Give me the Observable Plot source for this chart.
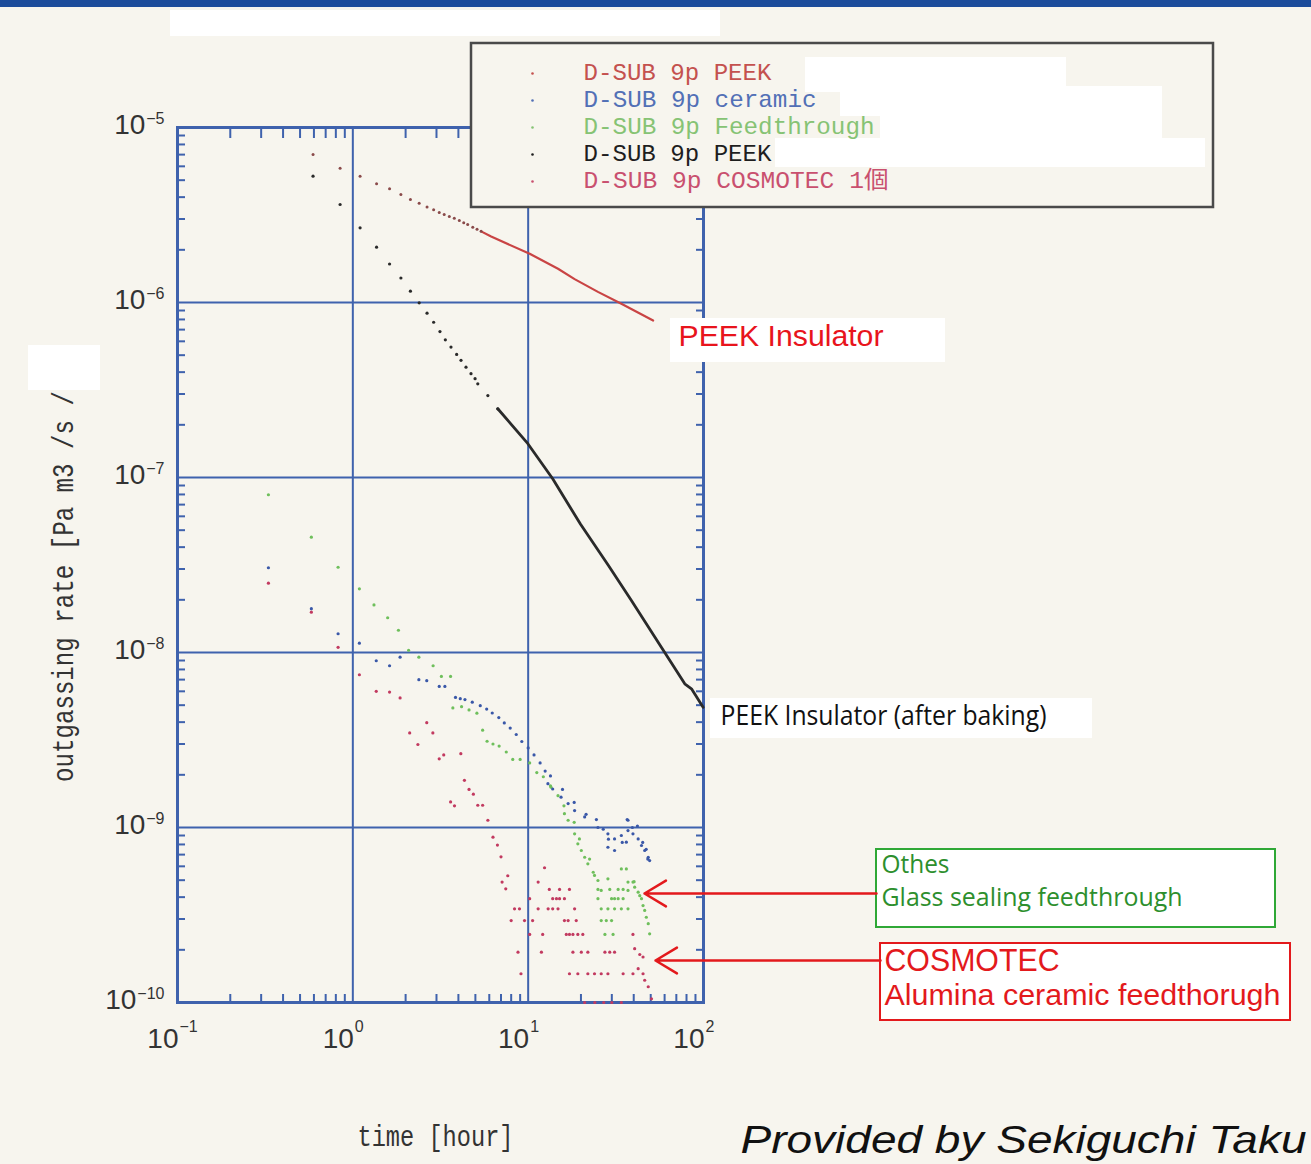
<!DOCTYPE html>
<html><head><meta charset="utf-8">
<script src="https://cdn.jsdelivr.net/npm/d3@7"></script>
<script src="https://cdn.jsdelivr.net/npm/@observablehq/plot@0.6"></script>
<style>
html,body{margin:0;padding:0;background:#f7f5ee;overflow:hidden;}
#wrap{position:relative;width:1311px;height:1164px;overflow:hidden;}
#bar{position:absolute;left:0;top:0;width:1311px;height:7px;background:#1c4c9b;}
</style></head><body><div id="wrap"><div id="chart"></div><div id="bar"></div></div>
<script>
// ---------------- data ----------------
const xMajor = [0.1, 1, 10, 100];
const xExp = ["\u22121", "0", "1", "2"];
const yMajor = [1e-10, 1e-9, 1e-8, 1e-7, 1e-6, 1e-5];
const yExp = ["\u221210", "\u22129", "\u22128", "\u22127", "\u22126", "\u22125"];
const minorMult = [2, 3, 4, 5, 6, 7, 8, 9];

const seriesNames = ["D-SUB 9p PEEK", "D-SUB 9p ceramic", "D-SUB 9p Feedthrough", "D-SUB 9p PEEK", "D-SUB 9p COSMOTEC 1個"];

// D-SUB 9p PEEK (red): sparse early dots, then dense trace
const peekDots = [[0.593,7.01e-6],[0.846,5.85e-6],[1.10,5.27e-6],[1.366,4.77e-6],[1.62,4.47e-6],[1.88,4.14e-6],[2.13,3.88e-6],[2.39,3.69e-6],[2.65,3.51e-6],[2.89,3.39e-6],[3.11,3.27e-6],[3.32,3.18e-6],[3.55,3.10e-6],[3.79,3.03e-6],[4.05,2.94e-6],[4.29,2.86e-6],[4.52,2.79e-6],[4.83,2.69e-6],[5.11,2.62e-6],[5.39,2.55e-6]];
const peekTrace = [[5.39,2.55e-6],[6.15,2.38e-6],[10.2,1.90e-6],[14.8,1.56e-6],[18.4,1.36e-6],[25.0,1.15e-6],[34.0,9.84e-7],[51.6,7.89e-7]];

// D-SUB 9p PEEK after baking (black)
const bakedDots = [[0.593,5.27e-6],[0.846,3.63e-6],[1.10,2.67e-6],[1.366,2.07e-6],[1.62,1.66e-6],[1.88,1.38e-6],[2.13,1.16e-6],[2.39,9.96e-7],[2.65,8.69e-7],[2.89,7.71e-7],[3.14,6.82e-7],[3.37,6.12e-7],[3.63,5.56e-7],[3.91,5.05e-7],[4.14,4.67e-7],[4.42,4.27e-7],[4.72,3.92e-7],[4.98,3.67e-7],[5.16,3.43e-7],[5.89,2.94e-7],[6.71,2.47e-7]];
const bakedTrace = [[6.71,2.47e-7],[9.96,1.56e-7],[13.8,9.84e-8],[19.9,5.4e-8],[28.7,3.14e-8],[38.8,1.98e-8],[57.5,1.07e-8],[78.2,6.62e-9],[85.4,6.2e-9],[99.5,4.86e-9]];

// D-SUB 9p ceramic (blue)
const ceramic = [[0.33,3.05e-8],[0.58,1.78e-8],[0.824,1.28e-8],[1.09,1.13e-8],[1.36,8.97e-9],[1.62,8.4e-9],[1.86,9.4e-9],[2.38,6.99e-9],[2.64,6.9e-9],[3.11,6.4e-9],[3.35,6.4e-9],[3.85,5.54e-9],[4.1,5.45e-9],[4.36,5.38e-9],[4.8,5.2e-9],[5.33,4.97e-9],[5.8,4.75e-9],[6.24,4.51e-9],[6.8,4.25e-9],[7.31,3.96e-9],[7.9,3.7e-9],[8.55,3.40e-9],[9.2,3.1e-9],[10.0,2.85e-9],[10.8,2.6e-9],[11.7,2.34e-9],[12.5,2.1e-9],[13.4,1.97e-9],[12.96,1.78e-9],[13.8,1.66e-9],[15.4,1.49e-9],[15.7,1.65e-9],[16.9,1.37e-9],[18.3,1.39e-9],[18.4,1.25e-9],[21.0,1.15e-9],[21.4,1.19e-9],[24.5,1.11e-9],[25.0,1.0e-9],[26.8,9.77e-10],[28.5,9.2e-10],[28.5,7.71e-10],[28.7,8.58e-10],[31.1,8.6e-10],[31.1,7.39e-10],[34.0,9.0e-10],[34.4,8.22e-10],[36.3,8.24e-10],[36.7,1.11e-9],[37.1,9.6e-10],[37.1,1.10e-9],[39.3,1.0e-9],[39.6,9.2e-10],[42.0,1.02e-9],[42.4,8.6e-10],[44.3,7.89e-10],[45.0,8.22e-10],[46.2,7.39e-10],[47.1,7.5e-10],[48.1,6.6e-10],[48.4,6.76e-10],[49.3,6.47e-10]];

// D-SUB 9p Feedthrough (green)
const feedthrough = [[0.33,7.97e-8],[0.58,4.56e-8],[0.824,3.07e-8],[1.09,2.31e-8],[1.32,1.87e-8],[1.58,1.58e-8],[1.82,1.34e-8],[2.08,1.03e-8],[2.38,9.4e-9],[2.87,8.4e-9],[3.20,7.3e-9],[3.61,7.3e-9],[3.72,4.82e-9],[4.17,4.9e-9],[4.6,4.7e-9],[5.1,4.5e-9],[5.5,3.6e-9],[5.83,3.11e-9],[6.3,3.0e-9],[6.83,2.92e-9],[7.5,2.7e-9],[8.17,2.45e-9],[9.0,2.45e-9],[10.2,2.34e-9],[11.2,2.06e-9],[12.2,1.95e-9],[13.4,1.73e-9],[13.5,1.70e-9],[14.8,1.52e-9],[16.0,1.33e-9],[16.1,1.20e-9],[16.9,1.10e-9],[18.3,1.07e-9],[18.4,9.2e-10],[19.2,8.07e-10],[19.6,8.6e-10],[20.1,7.39e-10],[21.0,6.76e-10],[21.9,6.2e-10],[22.4,6.6e-10],[23.5,5.55e-10],[23.9,5.32e-10],[25.0,4.98e-10],[26.1,4.37e-10],[28.5,5.09e-10],[25.0,4.43e-10],[29.2,4.43e-10],[32.6,4.43e-10],[34.8,4.43e-10],[25.0,3.92e-10],[29.9,3.92e-10],[31.1,3.92e-10],[32.6,3.92e-10],[34.8,3.92e-10],[26.1,3.43e-10],[28.5,3.43e-10],[31.1,3.43e-10],[34.0,3.43e-10],[37.1,3.43e-10],[26.1,2.94e-10],[27.9,2.94e-10],[29.9,2.94e-10],[27.4,2.45e-10],[30.5,2.45e-10],[34.0,5.8e-10],[36.3,5.8e-10],[37.1,4.88e-10],[39.6,4.88e-10],[37.1,4.37e-10],[40.2,4.9e-10],[40.5,4.56e-10],[42.4,4.27e-10],[43.3,4.08e-10],[44.3,3.92e-10],[45.2,3.58e-10],[46.2,3.36e-10],[47.2,3.07e-10],[48.4,2.82e-10],[49.3,2.47e-10]];

// D-SUB 9p COSMOTEC (crimson)
const cosmotec = [[0.33,2.49e-8],[0.58,1.70e-8],[0.824,1.07e-8],[1.09,7.46e-9],[1.36,6.0e-9],[1.62,5.94e-9],[1.86,5.5e-9],[2.11,3.47e-9],[2.35,2.98e-9],[2.64,3.97e-9],[2.86,3.47e-9],[3.11,2.47e-9],[3.3,2.6e-9],[3.61,1.40e-9],[3.8,1.33e-9],[4.13,2.64e-9],[4.33,1.86e-9],[4.6,1.65e-9],[4.87,1.55e-9],[5.16,1.34e-9],[5.5,1.34e-9],[5.89,1.10e-9],[6.3,8.8e-10],[6.68,7.94e-10],[7.0,6.8e-10],[7.1,4.88e-10],[7.45,4.46e-10],[7.65,5.3e-10],[8.0,2.94e-10],[8.36,3.43e-10],[8.75,1.94e-10],[8.92,3.43e-10],[9.1,1.46e-10],[9.53,2.94e-10],[10.2,3.92e-10],[10.2,2.45e-10],[10.6,2.94e-10],[11.4,3.43e-10],[11.4,4.88e-10],[11.9,1.94e-10],[12.1,2.45e-10],[12.4,5.89e-10],[13.0,3.43e-10],[13.2,4.43e-10],[13.8,3.43e-10],[13.8,3.92e-10],[14.5,3.92e-10],[14.8,3.43e-10],[15.1,3.92e-10],[15.1,4.43e-10],[16.1,3.92e-10],[16.1,2.94e-10],[16.5,2.45e-10],[16.9,2.94e-10],[17.2,4.43e-10],[17.2,2.45e-10],[17.2,1.46e-10],[18.0,2.45e-10],[18.0,1.94e-10],[18.4,3.43e-10],[18.8,2.94e-10],[19.2,2.45e-10],[19.2,1.46e-10],[20.1,1.94e-10],[20.5,2.45e-10],[21.9,1.94e-10],[21.9,1.46e-10],[23.9,1.46e-10],[26.1,1.46e-10],[27.4,1.94e-10],[28.5,1.46e-10],[29.2,1.94e-10],[31.1,1.94e-10],[34.8,1.46e-10],[39.6,1.46e-10],[39.6,2.45e-10],[40.5,2.03e-10],[42.4,1.56e-10],[43.3,1.88e-10],[45.2,1.82e-10],[45.2,1.46e-10],[46.2,1.34e-10],[48.4,1.23e-10],[50.5,1.05e-10],[21.0,1.0e-10],[24.0,1.0e-10],[27.0,1.0e-10],[30.0,1.0e-10],[34.0,1.0e-10]];

// ---------------- layout / style ----------------
const W = 1311, H = 1164, L = 177, R = 703, T = 127, B = 1002;
const BLUE = "#3f62ad", BG = "#f7f5ee";
const xs = px => 10 ** (-1 + 3 * (px - L) / (R - L));   // pixel -> data (annotation layer)
const ys = py => 10 ** (-5 - 5 * (py - T) / (B - T));
const colors = {peek: "#c94444", ceramic: "#3a58a8", feed: "#6fbf5c", baked: "#2a2a2a", cosmo: "#c23a60"};
const legendColors = ["#c4514e", "#5270b6", "#86c374", "#1e1e1e", "#c9506f"];
const MONO = "'Liberation Mono','DejaVu Sans Mono','Noto Sans CJK JP',monospace";
const SANS = "'Liberation Sans',Arial,sans-serif";

const xMinor = [0.1, 1, 10].flatMap(d => minorMult.map(m => d * m));
const yMinor = [1e-10, 1e-9, 1e-8, 1e-7, 1e-6].flatMap(d => minorMult.map(m => d * m));

const whiteBoxes = [[170,10,720,36],[28,345,100,390],[670,318,945,362],[710,698,1092,738]];
const legendBox = [471,43,1213,207];
const legendWhite = [[805,57,1066,92],[840,86,1162,116],[880,112,1162,140],[775,138,1205,167]];
const boxRect = (data, o) => Plot.rect(data, {x1: d => xs(d[0]), y1: d => ys(d[1]), x2: d => xs(d[2]), y2: d => ys(d[3]), ...o});

const marks = [];
// grid + frame + ticks
marks.push(Plot.ruleX([1, 10], {stroke: BLUE, strokeWidth: 2}));
marks.push(Plot.ruleY([1e-9, 1e-8, 1e-7, 1e-6], {stroke: BLUE, strokeWidth: 2}));
marks.push(Plot.axisX(xMinor, {anchor: "bottom", tickSize: -8, tickFormat: () => "", label: null, stroke: BLUE, strokeWidth: 2}));
marks.push(Plot.axisX(xMinor, {anchor: "top", tickSize: -10, tickFormat: () => "", label: null, stroke: BLUE, strokeWidth: 2}));
marks.push(Plot.axisY(yMinor, {anchor: "left", tickSize: -8, tickFormat: () => "", label: null, stroke: BLUE, strokeWidth: 2}));
marks.push(Plot.axisY(yMinor, {anchor: "right", tickSize: -8, tickFormat: () => "", label: null, stroke: BLUE, strokeWidth: 2}));
marks.push(Plot.frame({stroke: BLUE, strokeWidth: 3}));

// data
const P = {x: d => d[0], y: d => d[1]};
marks.push(Plot.line(peekTrace, {...P, stroke: colors.peek, strokeWidth: 2.2}));
marks.push(Plot.dot(peekDots, {...P, r: 1.5, fill: "#8a4a4a"}));
marks.push(Plot.line(bakedTrace, {...P, stroke: colors.baked, strokeWidth: 2.8, strokeLinejoin: "round"}));
marks.push(Plot.dot(bakedDots, {...P, r: 1.6, fill: colors.baked}));
marks.push(Plot.dot(cosmotec, {...P, r: 1.6, fill: colors.cosmo}));
marks.push(Plot.dot(feedthrough, {...P, r: 1.6, fill: colors.feed}));
marks.push(Plot.dot(ceramic, {...P, r: 1.6, fill: colors.ceramic}));

// redaction boxes & legend
marks.push(boxRect(whiteBoxes, {fill: "white"}));
marks.push(boxRect([legendBox], {fill: BG, stroke: "#4a4a4a", strokeWidth: 2.5}));
marks.push(boxRect(legendWhite, {fill: "white"}));
seriesNames.forEach((name, i) => {
  marks.push(Plot.dot([name], {x: () => xs(532), y: () => ys(73 + 27 * i), r: 1.3, fill: legendColors[i]}));
  marks.push(Plot.text([name], {x: () => xs(583), y: () => ys(72 + 27 * i), text: d => d, textAnchor: "start", fontSize: 24, fontFamily: MONO, fill: legendColors[i]}));
});

// tick labels
marks.push(Plot.text(xMajor, {x: d => d, y: () => ys(1039), text: () => "10", textAnchor: "end", dx: 1, fontSize: 28, fontFamily: SANS, fill: "#333"}));
marks.push(Plot.text(xMajor, {x: d => d, y: () => ys(1026), text: (d, i) => xExp[i], textAnchor: "start", dx: 2, fontSize: 16, fontFamily: SANS, fill: "#333"}));
marks.push(Plot.text(yMajor, {x: (d, i) => xs(164 - 9.3 - 8.9 * (yExp[i].length - 1) - 1), y: d => d, text: () => "10", textAnchor: "end", dy: -2, fontSize: 28, fontFamily: SANS, fill: "#333"}));
marks.push(Plot.text(yMajor, {x: () => xs(164), y: d => d, text: (d, i) => yExp[i], textAnchor: "end", dy: -9, fontSize: 16, fontFamily: SANS, fill: "#333"}));

// axis titles
marks.push(Plot.text(["time [hour]"], {x: () => xs(435), y: () => ys(1136), text: d => d, fontSize: 30, fontFamily: MONO, fill: "#333"}));
marks.push(Plot.text(["outgassing rate [Pa m3 /s /"], {x: () => xs(63), y: () => ys(586), text: d => d, rotate: -90, fontSize: 30, fontFamily: MONO, fill: "#333"}));

// annotations
marks.push(Plot.text(["PEEK Insulator"], {x: () => xs(678), y: () => ys(336), text: d => d, textAnchor: "start", fontSize: 30, fontFamily: SANS, fill: "#e8141c"}));
marks.push(Plot.text(["PEEK Insulator (after baking)"], {x: () => xs(720), y: () => ys(716), text: d => d, textAnchor: "start", fontSize: 28, fontFamily: "'Open Sans',sans-serif", fill: "#111"}));
marks.push(boxRect([[876,849,1275,927]], {fill: "white", stroke: "#2fa836", strokeWidth: 2}));
marks.push(boxRect([[880,943,1290,1020]], {fill: "white", stroke: "#e3191c", strokeWidth: 2}));
marks.push(Plot.text(["Othes"], {x: () => xs(881), y: () => ys(864), text: d => d, textAnchor: "start", fontSize: 25, fontFamily: "'Open Sans',sans-serif", fill: "#2d8f2d"}));
marks.push(Plot.text(["Glass sealing feedthrough"], {x: () => xs(881), y: () => ys(897), text: d => d, textAnchor: "start", fontSize: 25, fontFamily: "'Open Sans',sans-serif", fill: "#2d8f2d"}));
marks.push(Plot.text(["COSMOTEC"], {x: () => xs(884), y: () => ys(960), text: d => d, textAnchor: "start", fontSize: 32, fontFamily: SANS, fill: "#e3191c"}));
marks.push(Plot.text(["Alumina ceramic feedthorugh"], {x: () => xs(884), y: () => ys(995), text: d => d, textAnchor: "start", fontSize: 30, fontFamily: SANS, fill: "#e3191c"}));
marks.push(Plot.arrow([[876,893,644,893],[880,960,655,960]], {x1: d => xs(d[0]), y1: d => ys(d[1]), x2: d => xs(d[2]), y2: d => ys(d[3]), stroke: "#e3191c", strokeWidth: 2.5, headLength: 15, headAngle: 62}));
marks.push(Plot.text(["Provided by Sekiguchi Taku"], {x: () => xs(740), y: () => ys(1140), text: d => d, textAnchor: "start", fontSize: 38, fontStyle: "italic", fontFamily: SANS, fill: "#111"}));

const svg = Plot.plot({
  width: W, height: H,
  marginLeft: L, marginRight: W - R, marginTop: T, marginBottom: H - B,
  x: {type: "log", domain: [0.1, 100]},
  y: {type: "log", domain: [1e-10, 1e-5]},
  style: {background: BG, overflow: "hidden"},
  marks
});

const fit = new Map([
  ["D-SUB 9p PEEK", 188], ["D-SUB 9p ceramic", 233], ["D-SUB 9p Feedthrough", 291], ["D-SUB 9p COSMOTEC 1個", 305],
  ["time [hour]", 156], ["outgassing rate [Pa m3 /s /", 391],
  ["PEEK Insulator", 205], ["PEEK Insulator (after baking)", 326], ["Othes", 68], ["Glass sealing feedthrough", 301],
  ["COSMOTEC", 175], ["Alumina ceramic feedthorugh", 396], ["Provided by Sekiguchi Taku", 566]
]);
svg.querySelectorAll("text").forEach(t => {
  const w = fit.get(t.textContent);
  if (w) { t.setAttribute("textLength", w); t.setAttribute("lengthAdjust", "spacingAndGlyphs"); }
});
document.getElementById("chart").appendChild(svg);
</script></body></html>
